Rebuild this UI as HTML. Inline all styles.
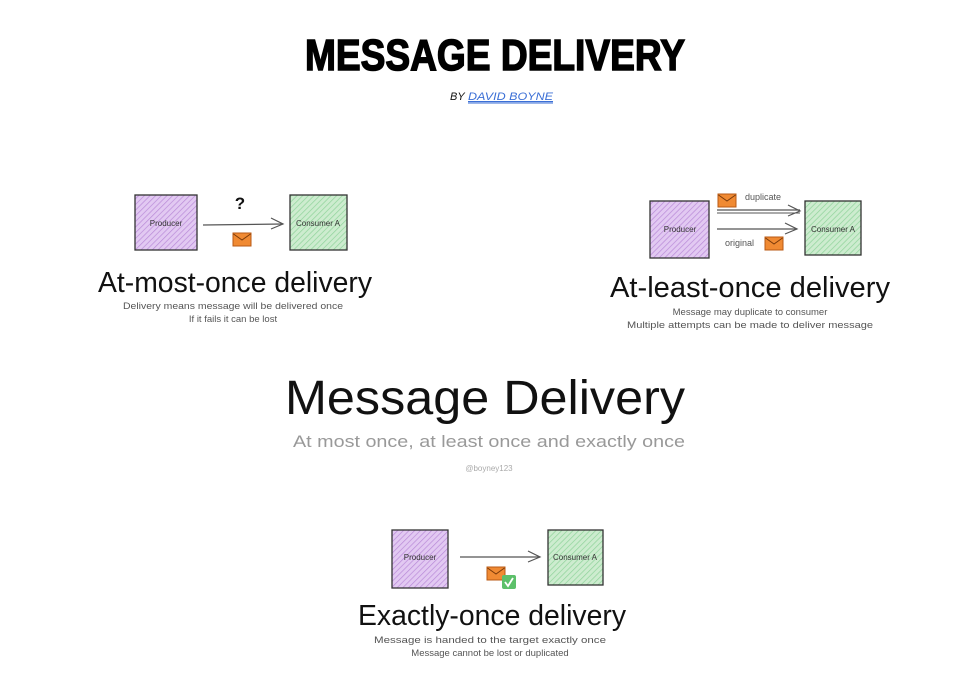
<!DOCTYPE html>
<html><head><meta charset="utf-8"><style>
html,body{margin:0;padding:0;background:#fff;}
svg{display:block;}
text{font-family:"Liberation Sans",sans-serif;}
</style></head><body>
<svg width="961" height="700" viewBox="0 0 961 700" xmlns="http://www.w3.org/2000/svg">
<defs>
<pattern id="pu" width="4" height="4" patternUnits="userSpaceOnUse" patternTransform="rotate(45)">
<rect width="4" height="4" fill="#e2c9f2"/><line x1="0" y1="0" x2="0" y2="4" stroke="#b98ad8" stroke-width="1.4"/></pattern>
<pattern id="gr" width="4" height="4" patternUnits="userSpaceOnUse" patternTransform="rotate(45)">
<rect width="4" height="4" fill="#cdeccf"/><line x1="0" y1="0" x2="0" y2="4" stroke="#8fd39a" stroke-width="1.4"/></pattern>
<g id="env"><rect x="0" y="0" width="18" height="13" fill="#f08a33" stroke="#b85a14" stroke-width="1"/><polyline points="0.5,1 9,7 17.5,1" fill="none" stroke="#7a3a0a" stroke-width="1"/></g>
</defs>

<text x="495" y="70" font-size="44" font-weight="bold" text-anchor="middle" textLength="380" lengthAdjust="spacingAndGlyphs" fill="#000" stroke="#000" stroke-width="1.5">MESSAGE DELIVERY</text>
<text x="450" y="100" font-size="11" font-style="italic" fill="#111">BY</text>
<text x="468" y="100" font-size="11" font-style="italic" fill="#3b6fd6" text-decoration="underline" textLength="85" lengthAdjust="spacingAndGlyphs">DAVID BOYNE</text>
<line x1="468" y1="103" x2="553" y2="103" stroke="#3b6fd6" stroke-width="1"/>

<!-- section 1 -->
<rect x="135" y="195" width="62" height="55" fill="url(#pu)" stroke="#333" stroke-width="1.3"/>
<text x="166" y="226" font-size="8" text-anchor="middle" fill="#333">Producer</text>
<rect x="290" y="195" width="57" height="55" fill="url(#gr)" stroke="#333" stroke-width="1.3"/>
<text x="318" y="226" font-size="8" text-anchor="middle" fill="#333">Consumer A</text>
<line x1="203" y1="225" x2="283" y2="224" stroke="#555" stroke-width="1.2"/>
<polyline points="271,218 283,224 271,229" fill="none" stroke="#555" stroke-width="1.2"/>
<text x="240" y="209" font-size="17" font-weight="bold" text-anchor="middle" fill="#111">?</text>
<use href="#env" x="233" y="233"/>
<text x="235" y="292" font-size="29" text-anchor="middle" textLength="274" lengthAdjust="spacingAndGlyphs" fill="#111">At-most-once delivery</text>
<text x="233" y="309" font-size="9.5" text-anchor="middle" textLength="220" lengthAdjust="spacingAndGlyphs" fill="#555">Delivery means message will be delivered once</text>
<text x="233" y="322" font-size="9.5" text-anchor="middle" fill="#555">If it fails it can be lost</text>

<!-- section 2 -->
<rect x="650" y="201" width="59" height="57" fill="url(#pu)" stroke="#333" stroke-width="1.3"/>
<text x="680" y="232" font-size="8" text-anchor="middle" fill="#333">Producer</text>
<rect x="805" y="201" width="56" height="54" fill="url(#gr)" stroke="#333" stroke-width="1.3"/>
<text x="833" y="232" font-size="8" text-anchor="middle" fill="#333">Consumer A</text>
<line x1="717" y1="210" x2="800" y2="210" stroke="#555" stroke-width="1.2"/>
<line x1="717" y1="213" x2="800" y2="213" stroke="#555" stroke-width="1"/>
<polyline points="788,205 800,211 788,216" fill="none" stroke="#555" stroke-width="1.2"/>
<line x1="717" y1="229" x2="797" y2="229" stroke="#555" stroke-width="1.2"/>
<polyline points="785,223 797,229 785,234" fill="none" stroke="#555" stroke-width="1.2"/>
<use href="#env" x="718" y="194"/>
<text x="745" y="200" font-size="9" fill="#555">duplicate</text>
<text x="725" y="246" font-size="9" fill="#555">original</text>
<use href="#env" x="765" y="237"/>
<text x="750" y="297" font-size="29" text-anchor="middle" textLength="280" lengthAdjust="spacingAndGlyphs" fill="#111">At-least-once delivery</text>
<text x="750" y="315" font-size="9.5" text-anchor="middle" fill="#555">Message may duplicate to consumer</text>
<text x="750" y="328" font-size="9.5" text-anchor="middle" textLength="246" lengthAdjust="spacingAndGlyphs" fill="#555">Multiple attempts can be made to deliver message</text>

<!-- center -->
<text x="485" y="414" font-size="48" text-anchor="middle" textLength="400" lengthAdjust="spacingAndGlyphs" fill="#111">Message Delivery</text>
<text x="489" y="447" font-size="17" text-anchor="middle" textLength="392" lengthAdjust="spacingAndGlyphs" fill="#999">At most once, at least once and exactly once</text>
<text x="489" y="471" font-size="8" text-anchor="middle" fill="#aaa">@boyney123</text>

<!-- section 3 -->
<rect x="392" y="530" width="56" height="58" fill="url(#pu)" stroke="#333" stroke-width="1.3"/>
<text x="420" y="560" font-size="8" text-anchor="middle" fill="#333">Producer</text>
<rect x="548" y="530" width="55" height="55" fill="url(#gr)" stroke="#333" stroke-width="1.3"/>
<text x="575" y="560" font-size="8" text-anchor="middle" fill="#333">Consumer A</text>
<line x1="460" y1="557" x2="540" y2="557" stroke="#555" stroke-width="1.2"/>
<polyline points="528,551 540,557 528,562" fill="none" stroke="#555" stroke-width="1.2"/>
<use href="#env" x="487" y="567"/>
<rect x="502" y="575" width="14" height="14" rx="2" fill="#5cc06a"/>
<polyline points="505,582 508,586 513,578" fill="none" stroke="#fff" stroke-width="1.8"/>
<text x="492" y="625" font-size="29" text-anchor="middle" textLength="268" lengthAdjust="spacingAndGlyphs" fill="#111">Exactly-once delivery</text>
<text x="490" y="643" font-size="9.5" text-anchor="middle" textLength="232" lengthAdjust="spacingAndGlyphs" fill="#555">Message is handed to the target exactly once</text>
<text x="490" y="656" font-size="9.5" text-anchor="middle" fill="#555">Message cannot be lost or duplicated</text>
</svg>
</body></html>
